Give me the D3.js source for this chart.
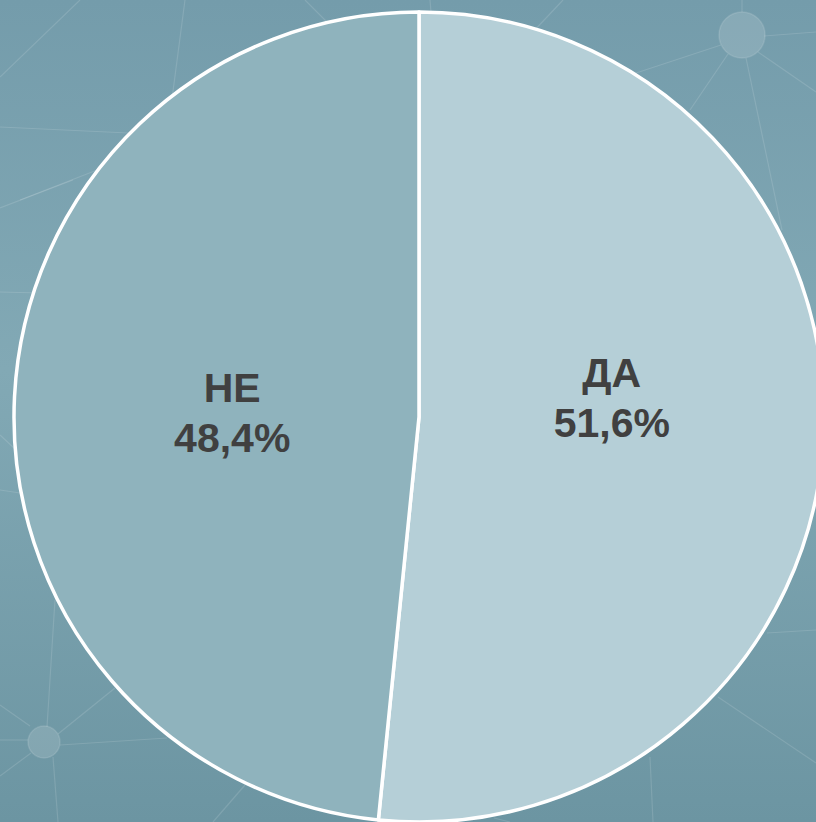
<!DOCTYPE html>
<html>
<head>
	<meta charset="utf-8"/>
	<style type="text/css">
		html, body {
			margin: 0;
			padding: 0;
			overflow: hidden;
		}
		svg {
			display: block;
		}
		.label {
			font-family: "Liberation Sans", Arial, sans-serif;
			font-weight: bold;
			font-size: 41px;
			fill: #404040;
		}
	</style>
</head>
<body>

	<svg id="chart" width="816" height="822"></svg>

	<script src="https://cdn.jsdelivr.net/npm/d3@7"></script>

	<script>
		// --- данные ---
		let categories = ["ДА", "НЕ"];
		let values = [51.6, 48.4];
		let valueLabels = ["51,6%", "48,4%"];
		let colors = ["#b5cfd7", "#8fb3bd"];

		// декоративная сетка на фоне (не данные)
		let bgLines = [
			[0, 77, 80, 0], [185, 0, 160, 190], [0, 127, 150, 134], [20, 200, 110, 165],
			[0, 208, 73, 180], [0, 292, 40, 293], [0, 435, 15, 449], [0, 490, 20, 493],
			[55, 600, 47, 727], [305, 0, 330, 25], [430, 0, 431, 12], [563, 0, 530, 35],
			[742, 0, 742, 12], [764, 36, 816, 32], [758, 52, 816, 92], [721, 45, 630, 75],
			[728, 54, 690, 110], [746, 58, 782, 230], [718, 697, 816, 763], [650, 757, 653, 822],
			[767, 633, 816, 630], [0, 705, 30, 726], [0, 740, 28, 740], [0, 776, 31, 753],
			[58, 734, 115, 688], [60, 745, 167, 738], [53, 757, 58, 822], [213, 822, 245, 785],
			[494, 818, 510, 822]
		];
		let bgNodes = [[742, 35, 23], [44, 742, 16]];

		let width = 816;
		let height = 822;
		let cx = 419;
		let cy = 417;
		let radius = 405;

		let svg = d3.select("#chart");

		// фон
		let defs = svg.append("defs");
		let grad = defs.append("linearGradient")
			.attr("id", "bg")
			.attr("x1", 0).attr("y1", 0).attr("x2", 0).attr("y2", 1);
		grad.append("stop").attr("offset", "0%").attr("stop-color", "#749cab");
		grad.append("stop").attr("offset", "45%").attr("stop-color", "#82a9b5");
		grad.append("stop").attr("offset", "100%").attr("stop-color", "#6c95a2");

		svg.append("rect")
		   .attr("width", width)
		   .attr("height", height)
		   .attr("fill", "url(#bg)");

		let deco = svg.append("g");
		deco.selectAll("line")
		   .data(bgLines)
		   .enter()
		   .append("line")
		   .attr("x1", d => d[0]).attr("y1", d => d[1])
		   .attr("x2", d => d[2]).attr("y2", d => d[3])
		   .attr("stroke", "rgba(255,255,255,0.13)")
		   .attr("stroke-width", 1.2);
		deco.selectAll("circle")
		   .data(bgNodes)
		   .enter()
		   .append("circle")
		   .attr("cx", d => d[0]).attr("cy", d => d[1]).attr("r", d => d[2])
		   .attr("fill", "rgba(255,255,255,0.14)")
		   .attr("stroke", "rgba(255,255,255,0.12)")
		   .attr("stroke-width", 1.5);

		// круговая диаграмма
		let data = categories.map((c, i) => ({name: c, value: values[i], label: valueLabels[i], color: colors[i]}));

		let pie = d3.pie()
			.sort(null)
			.value(d => d.value);

		let arc = d3.arc()
			.innerRadius(0)
			.outerRadius(radius);

		let labelArc = d3.arc()
			.innerRadius(190)
			.outerRadius(190);

		let g = svg.append("g")
			.attr("transform", `translate(${cx}, ${cy})`);

		let arcs = pie(data);

		g.selectAll("path")
		   .data(arcs)
		   .enter()
		   .append("path")
		   .attr("d", arc)
		   .attr("fill", d => d.data.color)
		   .attr("stroke", "#ffffff")
		   .attr("stroke-width", 3.5)
		   .attr("stroke-linejoin", "round");

		// сдвиг первой строки подписи по вертикали (как в оригинале)
		let firstLineDy = [-40, -5];

		let labels = g.selectAll("text")
		   .data(arcs)
		   .enter()
		   .append("text")
		   .attr("class", "label")
		   .attr("text-anchor", "middle")
		   .attr("transform", (d, i) => {
			   let c = labelArc.centroid(d);
			   return `translate(${c[0] + 3}, ${c[1] + firstLineDy[i]})`;
		   });

		labels.append("tspan")
		   .attr("x", 0)
		   .attr("y", 0)
		   .text(d => d.data.name);

		labels.append("tspan")
		   .attr("x", 0)
		   .attr("y", 50)
		   .text(d => d.data.label);
	</script>

</body>
</html>
